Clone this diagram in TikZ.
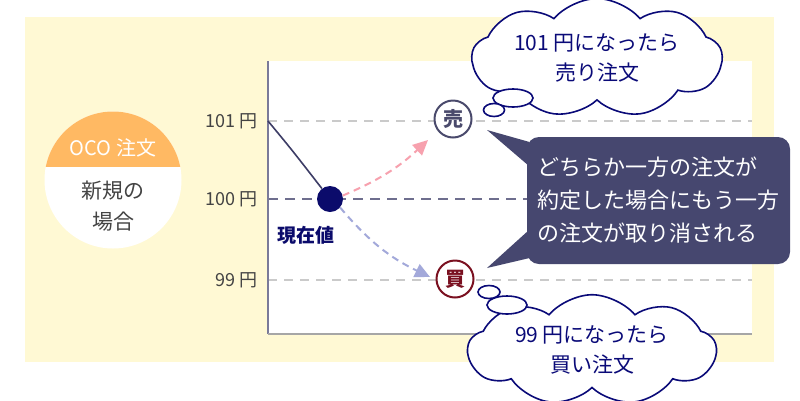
\documentclass[tikz,border=0pt]{standalone}
\usepackage{fontspec}
\setmainfont{Noto Sans CJK JP}
\usepackage{xcolor}
\usetikzlibrary{shapes.geometric, shapes.symbols, arrows.meta, positioning, calc}
\definecolor{bgyellow}{HTML}{FFF9D4}
\definecolor{ocoorange}{HTML}{FFB963}
\definecolor{textgray}{HTML}{444444}
\definecolor{gridgray}{HTML}{CACACA}
\definecolor{midgray}{HTML}{6E6E8E}
\definecolor{axisblue}{HTML}{7A7A99}
\definecolor{pricenavy}{HTML}{3D3D66}
\definecolor{dotnavy}{HTML}{0B0B6B}
\definecolor{sellslate}{HTML}{4A4A6C}
\definecolor{buyred}{HTML}{7A1020}
\definecolor{sellpink}{HTML}{F7A1AE}
\definecolor{buylilac}{HTML}{A3A9DA}
\definecolor{cloudnavy}{HTML}{0A0A78}
\definecolor{notefill}{HTML}{46476F}
\tikzset{
	pricelabel/.style={anchor=east, inner sep=0pt, text=textgray, font=\fontsize{18}{18}\selectfont},
	gridline/.style={draw=gridgray, line width=1.2pt, dash pattern=on 9pt off 7pt},
	midline/.style={draw=midgray, line width=1.5pt, dash pattern=on 10pt off 7pt},
	ordercircle/.style={circle, draw, fill=white, line width=2pt, minimum size=37pt, inner sep=0pt,
		font=\fontsize{20}{20}\selectfont\bfseries},
	thought/.style={cloud, cloud puffs=9, cloud puff arc=100, aspect=2.7, draw=cloudnavy, line width=1.6pt,
		fill=white, align=center, text=cloudnavy, inner sep=0pt, font=\fontsize{21}{30}\selectfont},
	puff/.style={ellipse, draw=cloudnavy, line width=1.6pt, fill=white, inner sep=0pt},
	movearrow/.style={-{Triangle[length=15pt,width=14pt]}, line width=2pt, dash pattern=on 7pt off 5pt},
	notebox/.style={rectangle, rounded corners=12pt, fill=notefill, text=white, align=left,
		minimum width=263pt, minimum height=127pt, inner sep=0pt, font=\fontsize{22}{33}\selectfont},
}
\begin{document}
\begin{tikzpicture}[x=1pt, y=-1pt]
	\useasboundingbox (0,0) rectangle (800,400);
	% background and plot area
	\fill[bgyellow] (25,17) rectangle (774,362);
	\fill[white] (268,61) rectangle (752,334);
	\draw[gridline] (268,121) -- (752,121);
	\draw[midline] (268,199) -- (752,199);
	\draw[gridline] (268,280) -- (752,280);
	\draw[axisblue, line width=1.2pt] (268,61) -- (268,334);
	\draw[gray!70, line width=1.2pt] (268,334) -- (752,334);
	\node[pricelabel] (p101) at (258,121) {101 円};
	\node[pricelabel] (p100) at (258,199) {100 円};
	\node[pricelabel] (p99) at (258,280) {99 円};
	% OCO badge
	\node[circle, fill=white, minimum size=137pt, inner sep=0pt] (oco) at (113,180) {};
	\begin{scope}
		\clip (oco.center) circle (68.5);
		\fill[ocoorange] ($(oco.center)+(-70,-70)$) rectangle ($(oco.center)+(70,-13)$);
	\end{scope}
	\node[text=white, font=\fontsize{20}{20}\selectfont] (ocohead) at (113,148) {OCO 注文};
	\node[text=textgray, align=center, font=\fontsize{21}{31}\selectfont] (ocobody) at (113,206) {新規の\\場合};
	% price path
	\node[circle, fill=dotnavy, minimum size=26pt, inner sep=0pt] (now) at (330,199) {};
	\coordinate (start) at (268,121);
	\draw[pricenavy, line width=1.6pt] (start) .. controls (292,150) .. (now);
	\node[text=dotnavy, font=\fontsize{19}{19}\selectfont\bfseries] (nowlabel) at (306,235) {現在値};
	\node[ordercircle, draw=sellslate, text=sellslate] (sell) at (453,119) {売};
	\node[ordercircle, draw=buyred, text=buyred] (buy) at (455,279) {買};
	\coordinate (selltip) at (428,140);
	\coordinate (buytip) at (430,277);
	\draw[movearrow, sellpink] (now.15) to[bend right=10] (selltip);
	\draw[movearrow, buylilac] (now.-40) to[bend right=12] (buytip);
	% thought clouds
	\node[thought, minimum width=250pt, minimum height=92pt] (sellcloud) at (597,58) {101 円になったら\\売り注文};
	\node[puff, minimum width=40pt, minimum height=18pt] (sellpuffa) at (513,98) {};
	\node[puff, minimum width=21pt, minimum height=13pt] (sellpuffb) at (494,110) {};
	\node[thought, minimum width=248pt, minimum height=96pt] (buycloud) at (592,350) {99 円になったら\\買い注文};
	\node[puff, minimum width=40pt, minimum height=18pt] (buypuffa) at (507,305) {};
	\node[puff, minimum width=22pt, minimum height=13pt] (buypuffb) at (489,292) {};
	% callout
	\node[notebox] (note) at (658.5,200.5) {どちらか一方の注文が\\約定した場合にもう一方\\の注文が取り消される};
	\coordinate (selltail) at (487,130);
	\coordinate (buytail) at (487,268);
	\fill[notefill] (selltail) -- ($(note.north west)+(2,5)$) -- ($(note.north west)+(2,29)$) -- cycle;
	\fill[notefill] (buytail) -- ($(note.south west)+(2,-34)$) -- ($(note.south west)+(2,-6)$) -- cycle;
\end{tikzpicture}
\end{document}
